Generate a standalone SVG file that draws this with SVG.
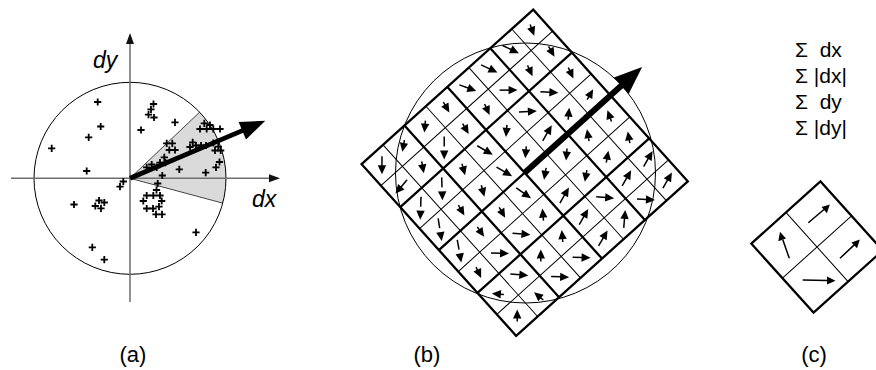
<svg xmlns="http://www.w3.org/2000/svg" xmlns:xlink="http://www.w3.org/1999/xlink" width="876" height="370" viewBox="0 0 876 370">
  <style>
    text { font-family: "Liberation Sans", Arial, sans-serif; fill: #000; }
    .axis { stroke: #6e6e6e; stroke-width: 1.5; fill: none; }
    .thin { stroke: #000; stroke-width: 1; fill: none; }
    .thick { stroke: #000; stroke-width: 2.3; fill: none; }
    .edge { stroke: #444; stroke-width: 1; }
    .cross { stroke: #000; stroke-width: 1.8; fill: none; }
    .stem { stroke: #000; stroke-width: 1.5; fill: none; }
    .head { fill: #000; stroke: none; }
    .lbl { font-size: 22px; }
    .ital { font-size: 23px; font-style: italic; }
    .sum { font-size: 21px; }
  </style>
  <defs>
    <path id="plus" class="cross" d="M-3.6,0H3.6M0,-3.6V3.6"/>
    <!-- small gradient arrows, pointing along +x, centred on the origin -->
    <g id="as"><path class="stem" d="M-6,0H-2"/><path class="head" d="M6,0L-3,-4.2L-3,4.2Z"/></g>
    <g id="am"><path class="stem" d="M-9,0H1"/><path class="head" d="M9,0L0,-4.2L0,4.2Z"/></g>
    <g id="al"><path class="stem" d="M-11.5,0H-1.5"/><path class="head" d="M11.5,0L2.5,-4.2L2.5,4.2Z"/></g>
  </defs>

  <!-- (a) gradient responses and the sliding orientation window -->
  <g id="panel-a">
    <path d="M130,178.3 L199.6,112.2 A96,96 0 0 1 222.7,203.1 Z" fill="#dadada" stroke="none"/>
    <path class="edge" d="M130,178.3 L199.6,112.2 M130,178.3 L222.7,203.1"/>
    <circle cx="130" cy="178.3" r="96" class="thin"/>
    <g id="axes">
      <path class="axis" d="M130,302 V42 M11,178.3 H271"/>
      <path d="M130,33 L126,44 L134,44 Z M280,178.3 L269,174.3 L269,182.3 Z" fill="#111"/>
    </g>
    <text class="ital" x="93" y="68">dy</text>
    <text class="ital" x="252" y="206.5">dx</text>
    <g id="samples">
      <use href="#plus" x="97.7" y="102"/>
      <use href="#plus" x="100.7" y="126.5"/>
      <use href="#plus" x="88.7" y="137.3"/>
      <use href="#plus" x="51.7" y="148.3"/>
      <use href="#plus" x="86.7" y="171"/>
      <use href="#plus" x="123.3" y="181.5"/>
      <use href="#plus" x="120" y="186.7"/>
      <use href="#plus" x="74" y="204.5"/>
      <use href="#plus" x="99" y="200.5"/>
      <use href="#plus" x="104.3" y="202.5"/>
      <use href="#plus" x="95.3" y="206"/>
      <use href="#plus" x="101" y="208.3"/>
      <use href="#plus" x="92.3" y="247.3"/>
      <use href="#plus" x="104.3" y="259.7"/>
      <use href="#plus" x="196" y="232.3"/>
      <use href="#plus" x="153.5" y="104"/>
      <use href="#plus" x="151" y="109.3"/>
      <use href="#plus" x="148.5" y="114.7"/>
      <use href="#plus" x="154" y="117.5"/>
      <use href="#plus" x="141" y="130"/>
      <use href="#plus" x="175" y="122.3"/>
      <use href="#plus" x="157.7" y="183.5"/>
      <use href="#plus" x="156.5" y="190"/>
      <use href="#plus" x="146.7" y="195.5"/>
      <use href="#plus" x="153.3" y="195.5"/>
      <use href="#plus" x="160" y="195.5"/>
      <use href="#plus" x="143.3" y="201"/>
      <use href="#plus" x="161.7" y="201"/>
      <use href="#plus" x="146.7" y="208.5"/>
      <use href="#plus" x="153" y="208.5"/>
      <use href="#plus" x="159" y="206.7"/>
      <use href="#plus" x="156" y="214.3"/>
      <use href="#plus" x="162" y="214.3"/>
      <use href="#plus" x="204.3" y="123.3"/>
      <use href="#plus" x="210" y="125"/>
      <use href="#plus" x="200" y="129"/>
      <use href="#plus" x="206.7" y="129"/>
      <use href="#plus" x="213.3" y="129"/>
      <use href="#plus" x="220" y="129"/>
      <use href="#plus" x="166.7" y="143.3"/>
      <use href="#plus" x="172.3" y="143.3"/>
      <use href="#plus" x="169.3" y="150"/>
      <use href="#plus" x="175" y="150"/>
      <use href="#plus" x="192.7" y="142.3"/>
      <use href="#plus" x="190" y="147"/>
      <use href="#plus" x="196" y="145.5"/>
      <use href="#plus" x="201" y="145.5"/>
      <use href="#plus" x="206" y="145.5"/>
      <use href="#plus" x="213.3" y="143"/>
      <use href="#plus" x="218.3" y="146.7"/>
      <use href="#plus" x="215" y="150.5"/>
      <use href="#plus" x="220.7" y="150.5"/>
      <use href="#plus" x="164.3" y="157.3"/>
      <use href="#plus" x="160" y="162.7"/>
      <use href="#plus" x="165.5" y="162.7"/>
      <use href="#plus" x="151.7" y="164.5"/>
      <use href="#plus" x="146.7" y="167.3"/>
      <use href="#plus" x="156.7" y="167.3"/>
      <use href="#plus" x="162.3" y="175.5"/>
      <use href="#plus" x="179.3" y="169.3"/>
      <use href="#plus" x="205.7" y="172.7"/>
      <use href="#plus" x="216" y="167.3"/>
      <use href="#plus" x="219.5" y="162"/>
    </g>
    <g id="orientation-a" transform="translate(130,178.3) rotate(-23)">
      <path d="M0,0 H124" stroke="#000" stroke-width="4.8"/>
      <path class="head" d="M147,0 L122,-9.5 L122,9.5 Z"/>
    </g>
    <text class="lbl" x="133" y="362" text-anchor="middle">(a)</text>
  </g>

  <!-- (b) oriented 4x4 grid of sub-regions, each split into 2x2 samples -->
  <g id="panel-b">
    <g id="grid-b" transform="translate(524.7,172.75) rotate(-42)">
      <path class="thin" d="M-86.6,-115.5V115.5M-28.9,-115.5V115.5M28.9,-115.5V115.5M86.6,-115.5V115.5M-115.5,-86.6H115.5M-115.5,-28.9H115.5M-115.5,28.9H115.5M-115.5,86.6H115.5"/>
      <path class="thick" d="M-57.75,-115.5V115.5M0,-115.5V115.5M57.75,-115.5V115.5M-115.5,-57.75H115.5M-115.5,0H115.5M-115.5,57.75H115.5"/>
      <rect class="thick" x="-115.5" y="-115.5" width="231" height="231"/>
    </g>
    <circle cx="525.5" cy="173" r="130" class="thin"/>
    <g id="samples-b" transform="translate(524.7,172.75) rotate(-42)">
      <use href="#am" transform="translate(-101.06,-101.06) rotate(132)"/>
      <use href="#as" transform="translate(-72.19,-101.06) rotate(142)"/>
      <use href="#as" transform="translate(-43.31,-101.06) rotate(137)"/>
      <use href="#as" transform="translate(-14.44,-101.06) rotate(102)"/>
      <use href="#am" transform="translate(14.44,-101.06) rotate(62)"/>
      <use href="#am" transform="translate(43.31,-101.06) rotate(67)"/>
      <use href="#am" transform="translate(72.19,-101.06) rotate(67)"/>
      <use href="#as" transform="translate(101.06,-101.06) rotate(112)"/>

      <use href="#am" transform="translate(-101.06,-72.19) rotate(172)"/>
      <use href="#as" transform="translate(-72.19,-72.19) rotate(122)"/>
      <use href="#al" transform="translate(-43.31,-72.19) rotate(132)"/>
      <use href="#as" transform="translate(-14.44,-72.19) rotate(102)"/>
      <use href="#as" transform="translate(14.44,-72.19) rotate(107)"/>
      <use href="#am" transform="translate(43.31,-72.19) rotate(42)"/>
      <use href="#as" transform="translate(72.19,-72.19) rotate(107)"/>
      <use href="#as" transform="translate(101.06,-72.19) rotate(102)"/>

      <use href="#al" transform="translate(-101.06,-43.31) rotate(134)"/>
      <use href="#al" transform="translate(-72.19,-43.31) rotate(130)"/>
      <use href="#as" transform="translate(-43.31,-43.31) rotate(117)"/>
      <use href="#am" transform="translate(-14.44,-43.31) rotate(72)"/>
      <use href="#as" transform="translate(14.44,-43.31) rotate(137)"/>
      <use href="#am" transform="translate(43.31,-43.31) rotate(39)"/>
      <use href="#am" transform="translate(72.19,-43.31) rotate(45)"/>
      <use href="#as" transform="translate(101.06,-43.31) rotate(107)"/>

      <use href="#al" transform="translate(-101.06,-14.44) rotate(123)"/>
      <use href="#as" transform="translate(-72.19,-14.44) rotate(102)"/>
      <use href="#as" transform="translate(-43.31,-14.44) rotate(117)"/>
      <use href="#am" transform="translate(-14.44,-14.44) rotate(72)"/>
      <use href="#as" transform="translate(14.44,-14.44) rotate(137)"/>
      <use href="#am" transform="translate(43.31,-14.44) rotate(-18)"/>
      <use href="#as" transform="translate(72.19,-14.44) rotate(-43)"/>
      <use href="#as" transform="translate(101.06,-14.44) rotate(-18)"/>

      <use href="#al" transform="translate(-101.06,14.44) rotate(122)"/>
      <use href="#as" transform="translate(-72.19,14.44) rotate(97)"/>
      <use href="#as" transform="translate(-43.31,14.44) rotate(102)"/>
      <use href="#am" transform="translate(-14.44,14.44) rotate(77)"/>
      <use href="#as" transform="translate(14.44,14.44) rotate(142)"/>
      <use href="#as" transform="translate(43.31,14.44) rotate(137)"/>
      <use href="#as" transform="translate(72.19,14.44) rotate(-58)"/>
      <use href="#as" transform="translate(101.06,14.44) rotate(-68)"/>

      <use href="#as" transform="translate(-101.06,43.31) rotate(107)"/>
      <use href="#am" transform="translate(-72.19,43.31) rotate(44)"/>
      <use href="#am" transform="translate(-43.31,43.31) rotate(47)"/>
      <use href="#as" transform="translate(-14.44,43.31) rotate(-53)"/>
      <use href="#am" transform="translate(14.44,43.31) rotate(-18)"/>
      <use href="#as" transform="translate(43.31,43.31) rotate(142)"/>
      <use href="#as" transform="translate(72.19,43.31) rotate(-38)"/>
      <use href="#as" transform="translate(101.06,43.31) rotate(-58)"/>

      <use href="#as" transform="translate(-101.06,72.19) rotate(227)"/>
      <use href="#am" transform="translate(-72.19,72.19) rotate(47)"/>
      <use href="#as" transform="translate(-43.31,72.19) rotate(-48)"/>
      <use href="#as" transform="translate(-14.44,72.19) rotate(-53)"/>
      <use href="#am" transform="translate(14.44,72.19) rotate(-18)"/>
      <use href="#am" transform="translate(43.31,72.19) rotate(47)"/>
      <use href="#am" transform="translate(72.19,72.19) rotate(-18)"/>
      <use href="#am" transform="translate(101.06,72.19) rotate(-18)"/>

      <use href="#as" transform="translate(-101.06,101.06) rotate(-48)"/>
      <use href="#as" transform="translate(-72.19,101.06) rotate(-98)"/>
      <use href="#am" transform="translate(-43.31,101.06) rotate(44)"/>
      <use href="#am" transform="translate(-14.44,101.06) rotate(44)"/>
      <use href="#am" transform="translate(14.44,101.06) rotate(-18)"/>
      <use href="#am" transform="translate(43.31,101.06) rotate(-43)"/>
      <use href="#am" transform="translate(72.19,101.06) rotate(45)"/>
      <use href="#am" transform="translate(101.06,101.06) rotate(-18)"/>
    </g>
    <g id="orientation-b" transform="translate(524.7,172.75) rotate(-42)">
      <path d="M0,0 H134" stroke="#000" stroke-width="6"/>
      <path class="head" d="M158,0 L130,-11 L130,11 Z"/>
    </g>
    <text class="lbl" x="427" y="362" text-anchor="middle">(b)</text>
  </g>

  <!-- (c) one sub-region and its four summed responses -->
  <g id="panel-c">
    <g id="sums" class="sum">
      <text x="795" y="57" xml:space="preserve">Σ  dx</text>
      <text x="795" y="83" xml:space="preserve">Σ |dx|</text>
      <text x="795" y="109" xml:space="preserve">Σ  dy</text>
      <text x="795" y="135" xml:space="preserve">Σ |dy|</text>
    </g>
    <g id="cell-c" transform="translate(817,247) rotate(-42)">
      <path class="thin" d="M0,-46.5V46.5M-46.5,0H46.5"/>
      <rect class="thick" x="-46.5" y="-46.5" width="93" height="93"/>
    </g>
    <g id="samples-c">
      <path class="stem" d="M808.3,222.7 L824,209.5 M789.3,258.3 L782.8,239.7 M840,258.3 L854.5,244.6 M802.7,280 L827,280.5" stroke-width="1.1"/>
      <path class="head" d="M829.8,204.6 L826.9,213.3 L821.6,207.1 Z M780,231.7 L786,238.6 L778.3,241.2 Z M859.8,239.6 L857,248.3 L851.5,242.4 Z M835.5,280.7 L827,284.6 L827.1,276.6 Z"/>
    </g>
    <text class="lbl" x="814" y="362" text-anchor="middle">(c)</text>
  </g>
</svg>
